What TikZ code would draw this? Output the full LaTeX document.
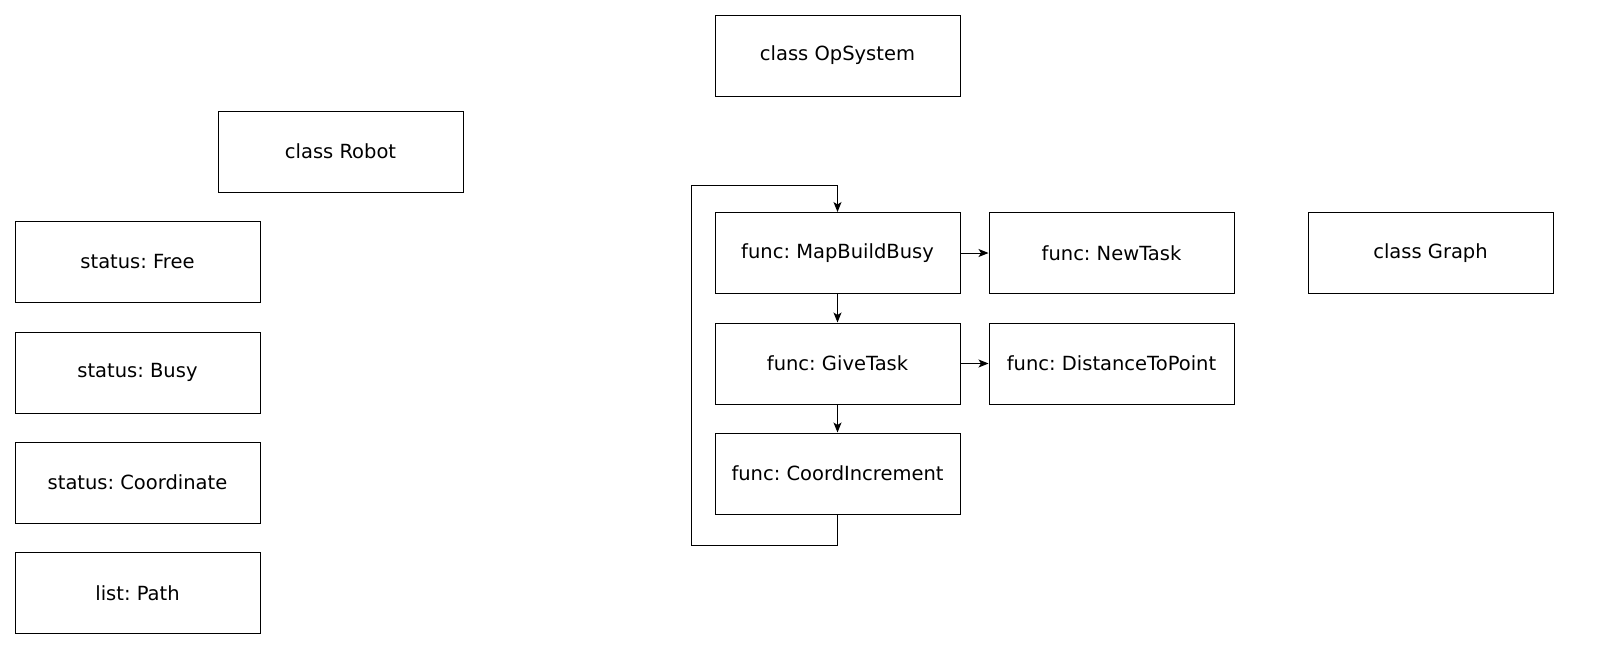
\documentclass[tikz,border=0pt]{standalone}
\usepackage{fontspec}
\setmainfont{DejaVu Sans}
\usetikzlibrary{arrows.meta}
\frenchspacing

\begin{document}
\begin{tikzpicture}[x=1pt,y=1pt,yscale=-1,xscale=1,
  box/.style={draw,line width=1pt,minimum width=245pt,minimum height=81pt,inner sep=0pt,font=\fontsize{19.5}{23}\selectfont},
  link/.style={line width=1pt,-{Stealth[length=10pt,width=8pt,inset=2.5pt]}}]
  \useasboundingbox (0,0) rectangle (1619,670);

  % class boxes
  \node[box] (opsys) at (837.5,55.5) {class OpSystem};
  \node[box] (robot) at (340.5,151.5) {class Robot};
  \node[box] (graph) at (1430.5,253) {class Graph};

  % robot fields
  \node[box] (free) at (137.5,261.5) {status: Free};
  \node[box] (busy) at (137.5,372.5) {status: Busy};
  \node[box] (coord) at (137.5,482.5) {status: Coordinate};
  \node[box] (path) at (137.5,593) {list: Path};

  % functions
  \node[box] (mapbuild) at (837.5,253) {func: MapBuildBusy};
  \node[box] (newtask) at (1111.5,253) {func: NewTask};
  \node[box] (givetask) at (837.5,363.5) {func: GiveTask};
  \node[box] (dist) at (1111.5,363.5) {func: DistanceToPoint};
  \node[box] (increment) at (837.5,473.5) {func: CoordIncrement};

  % loop corners
  \coordinate (loopbot) at (691,545);
  \coordinate (looptop) at (691,185);

  \draw[link] (mapbuild) -- (newtask);
  \draw[link] (givetask) -- (dist);
  \draw[link] (mapbuild) -- (givetask);
  \draw[link] (givetask) -- (increment);
  \draw[link] (increment.south) |- (loopbot) -- (looptop) -| (mapbuild.north);

\end{tikzpicture}
\end{document}
